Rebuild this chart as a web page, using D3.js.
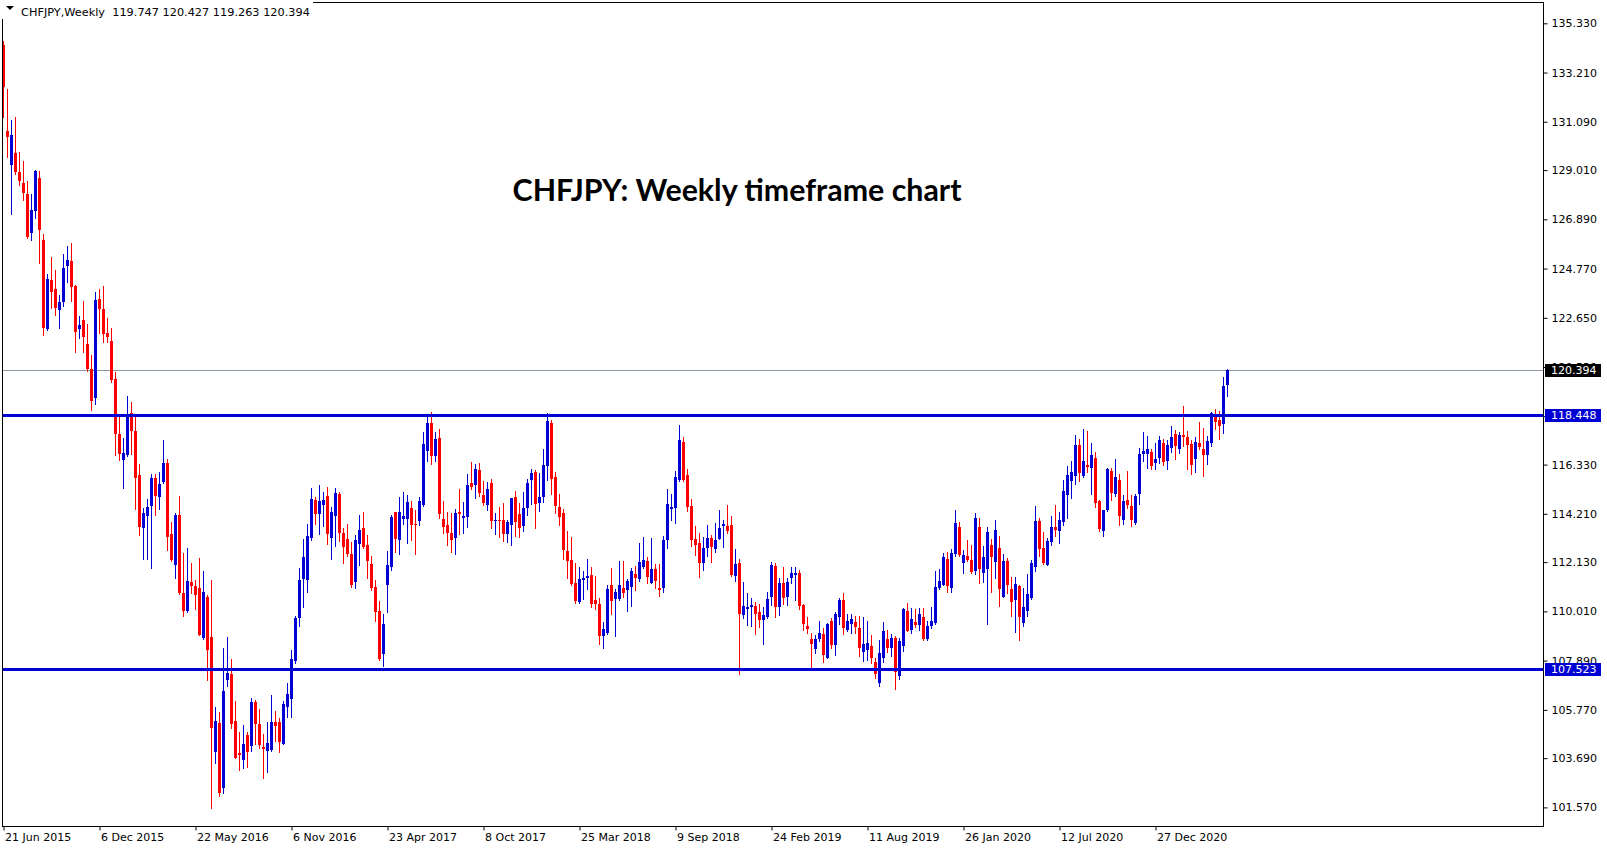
<!DOCTYPE html>
<html><head><meta charset="utf-8">
<script src="https://cdn.jsdelivr.net/npm/d3@7"></script>
<style>html,body{margin:0;padding:0;background:#fff;overflow:hidden}svg{display:block}</style>
</head><body>
<svg id="chart" width="1607" height="850"></svg>
<script>
// ---- Data (weekly OHLC, CHFJPY, from 21 Jun 2015) ----
const opens = [134.40,130.71,129.25,129.75,128.94,128.46,127.97,126.32,127.25,128.69,125.98,122.18,124.27,123.89,122.97,123.33,124.86,125.11,124.00,122.16,122.56,121.53,120.44,119.18,123.46,123.01,122.00,121.66,120.02,117.65,116.53,116.75,118.55,117.79,115.89,113.60,114.12,114.54,115.74,114.95,115.60,116.40,113.33,112.02,114.16,110.80,110.03,111.28,111.10,111.02,108.88,110.63,108.91,103.97,105.22,102.39,107.07,107.33,105.29,103.93,103.63,104.69,104.21,106.11,105.18,104.17,104.00,104.03,105.23,105.26,104.32,105.89,106.24,107.88,109.74,111.41,111.38,113.19,114.82,114.19,114.57,114.97,113.19,114.12,115.05,113.39,113.13,112.48,111.29,112.93,113.62,112.87,112.05,111.06,110.03,108.19,111.16,111.94,114.29,113.07,114.00,114.00,114.48,113.76,113.92,114.59,116.92,118.13,116.70,117.47,113.99,113.73,113.39,113.19,114.31,114.05,114.08,115.54,115.46,116.10,115.02,114.59,115.54,113.90,113.93,113.93,113.36,113.73,114.94,114.21,113.70,114.46,115.68,116.01,114.68,114.94,116.29,118.10,115.80,114.51,114.25,112.61,112.22,111.23,110.43,111.36,111.46,111.58,110.50,110.34,108.97,109.09,111.15,110.55,110.55,111.01,110.95,111.08,111.61,111.41,111.92,112.18,111.25,111.84,111.02,111.00,113.07,114.42,114.48,115.68,117.31,115.89,114.55,113.13,112.96,112.10,112.74,113.17,112.71,113.13,113.69,113.69,113.73,111.54,112.10,109.86,110.11,110.20,110.23,110.00,109.63,109.77,110.63,111.98,110.20,111.23,110.63,111.43,111.58,111.66,110.29,109.38,108.84,108.39,108.84,109.02,108.02,109.60,108.56,109.77,110.50,109.21,109.48,109.54,109.31,108.28,108.36,108.51,107.83,106.94,108.02,108.82,108.45,108.85,107.22,108.51,110.03,109.22,109.57,109.42,109.77,108.82,109.37,109.51,111.00,111.15,112.27,111.03,112.47,113.65,112.09,112.38,112.21,111.75,113.65,111.66,111.84,112.87,112.15,112.74,110.63,112.18,110.99,110.49,111.10,109.51,110.03,110.57,111.92,113.90,112.76,112.01,113.01,113.65,113.47,113.85,115.03,115.63,115.86,117.18,115.86,116.32,116.20,116.63,114.77,113.47,114.39,116.06,115.05,115.68,113.96,114.80,114.55,113.82,115.05,116.78,116.80,116.86,116.38,116.60,117.26,116.49,117.06,117.64,117.00,117.61,117.52,117.21,116.58,117.26,116.98,116.75,117.26,118.50,118.24,118.07,119.747];
const highs = [134.55,132.52,131.16,131.30,129.81,129.41,128.55,127.97,129.00,128.96,126.25,124.54,125.26,124.72,123.62,125.40,125.76,125.89,124.07,122.74,123.37,122.40,121.03,123.78,123.91,124.00,122.65,122.20,120.31,118.51,117.49,119.30,119.03,118.51,116.34,114.45,114.86,115.94,115.91,116.00,117.38,116.55,113.85,114.25,114.97,112.53,112.73,112.10,111.38,112.30,111.75,110.72,111.35,105.89,105.69,108.45,108.91,107.96,106.15,104.83,105.12,104.83,106.30,106.21,105.81,104.72,105.26,106.41,105.72,105.41,106.15,106.93,108.36,109.80,111.87,113.13,113.76,115.34,114.94,115.46,115.14,115.37,114.51,115.31,115.15,113.60,113.76,112.99,113.30,114.16,114.31,113.30,112.41,111.35,110.46,109.91,112.61,114.16,114.31,114.94,115.14,115.02,114.77,114.36,114.94,117.75,118.38,118.58,117.75,117.87,114.76,114.31,114.25,114.42,115.28,114.74,115.91,116.46,116.34,116.40,115.63,115.60,115.71,114.25,114.51,114.68,113.93,114.91,115.20,114.68,115.14,115.71,116.14,116.09,115.97,116.98,118.53,118.27,116.03,115.08,114.42,113.47,113.21,112.10,111.92,111.75,112.27,111.92,111.55,110.60,109.57,111.15,111.86,110.98,112.18,112.18,111.41,111.87,111.95,112.96,113.21,112.35,113.17,112.07,112.07,113.26,115.28,115.05,116.06,118.04,117.52,116.14,114.85,113.69,113.39,113.22,113.73,113.30,113.82,114.36,113.93,114.59,114.12,112.70,112.27,111.28,110.80,110.57,110.40,110.31,110.20,110.86,112.12,112.10,111.43,111.92,111.43,111.92,111.92,111.81,110.34,109.77,109.08,108.99,109.60,109.31,109.51,109.71,109.97,110.57,110.80,109.88,109.88,109.83,109.83,109.77,109.60,108.99,108.02,108.79,109.54,109.22,109.02,108.97,108.88,110.17,110.37,110.17,110.11,110.17,110.17,109.60,110.20,111.75,111.84,112.53,112.55,112.70,114.39,113.85,112.67,113.07,112.87,114.25,114.02,112.81,113.65,113.13,113.96,113.27,112.47,112.30,111.49,111.49,111.15,111.03,111.64,112.21,114.56,114.05,113.44,113.16,114.10,114.59,114.28,115.66,116.26,116.49,117.61,117.44,117.87,117.78,117.26,116.89,114.82,114.39,116.17,116.20,116.58,115.94,115.03,116.06,115.03,115.08,117.03,117.75,117.58,117.00,117.26,117.58,117.44,117.38,117.98,117.84,117.75,118.84,117.78,117.41,117.52,118.18,117.90,117.55,118.61,118.73,118.64,120.11,120.427];
const lows = [131.30,129.59,127.11,128.82,128.37,127.74,126.08,125.98,126.93,124.99,121.89,122.11,123.06,122.79,122.22,123.15,124.18,123.37,121.16,121.80,121.16,120.35,118.69,118.96,121.98,121.62,121.62,119.90,116.75,116.53,115.31,116.71,116.80,114.41,113.28,112.25,112.25,111.86,114.14,114.42,115.55,112.67,112.18,111.44,110.75,109.80,110.00,110.78,110.12,108.99,108.82,107.07,101.56,103.50,102.05,102.19,106.78,105.00,103.71,103.19,103.25,103.31,104.00,104.29,104.14,102.82,103.11,104.00,104.43,103.97,104.32,105.46,105.46,107.79,109.40,110.20,110.86,113.10,113.79,113.33,113.70,112.93,112.28,112.83,113.04,112.11,112.41,111.08,111.03,112.01,112.73,111.46,110.95,109.60,107.93,107.65,110.00,111.79,112.58,112.47,113.79,112.97,113.07,112.47,113.72,114.54,116.49,116.37,116.49,114.05,113.39,112.87,112.58,112.50,113.33,113.39,113.65,115.28,114.91,114.99,114.59,114.36,113.62,113.36,113.22,113.04,113.00,112.87,113.24,113.22,113.47,114.16,114.65,113.62,114.33,114.74,115.68,115.05,114.25,113.73,112.27,111.46,111.15,110.39,110.39,110.55,110.98,110.20,110.12,108.62,108.45,109.02,109.89,108.97,110.49,110.63,110.03,110.26,110.95,111.32,111.89,111.23,111.23,111.03,110.66,110.86,112.73,113.96,113.82,115.63,115.63,114.33,112.84,112.44,111.49,111.79,112.41,112.15,112.58,113.13,112.78,113.39,111.52,111.32,107.33,109.71,109.43,109.40,109.05,109.34,108.62,109.74,110.29,109.77,109.86,110.31,110.29,111.23,110.52,110.11,109.22,109.08,107.47,108.22,108.74,107.85,108.02,108.42,108.13,109.48,109.05,109.17,109.08,109.08,108.10,107.87,107.90,107.79,107.16,106.78,107.82,108.25,108.10,106.67,107.10,108.31,109.17,109.08,109.34,109.22,108.79,108.79,109.31,109.48,110.98,111.15,110.86,110.86,112.41,112.41,111.66,112.18,111.66,111.61,111.23,111.26,109.48,110.86,111.46,110.26,110.63,110.80,109.83,109.14,108.76,109.40,109.83,110.55,111.75,112.38,112.04,112.01,112.87,113.27,112.96,113.73,114.05,114.91,115.51,115.63,115.80,116.03,115.08,114.51,113.47,113.24,114.33,114.80,114.97,113.73,113.76,114.45,113.70,113.79,114.65,116.49,116.20,116.12,116.12,116.40,116.32,116.14,116.89,116.55,116.83,117.12,116.12,115.94,116.03,116.98,115.86,116.37,117.12,117.87,117.44,117.67,119.263];
const closes = [132.58,130.44,130.53,128.91,128.53,128.01,126.12,127.29,128.96,126.44,122.22,124.32,123.75,123.06,123.35,124.81,125.15,123.96,122.02,122.34,121.82,120.44,119.05,123.42,123.01,121.95,121.84,119.97,117.65,116.80,116.84,118.51,117.79,115.76,113.64,114.23,114.50,115.76,114.99,115.48,116.40,113.23,112.21,114.16,110.78,110.03,111.32,111.10,110.72,108.99,110.85,108.36,105.00,105.29,102.20,106.58,107.36,105.18,103.71,103.83,104.29,103.97,106.11,105.18,104.26,104.09,104.36,105.26,105.09,104.40,106.04,106.44,107.98,109.74,111.38,112.33,113.26,114.85,114.19,114.77,114.81,113.36,114.29,115.11,113.40,112.80,112.47,111.15,113.09,113.52,112.78,112.18,111.00,110.00,107.98,109.45,112.01,114.08,113.14,114.29,114.12,114.74,113.73,113.73,114.77,117.21,118.13,116.72,117.44,114.22,113.65,113.39,113.10,114.25,114.22,114.12,115.46,115.37,116.14,115.11,114.68,115.28,113.90,113.95,113.88,113.36,113.85,114.88,113.85,113.62,114.46,115.54,115.97,114.65,114.94,116.32,118.21,115.71,114.55,114.08,112.67,112.18,111.21,110.46,111.41,111.46,111.54,110.34,110.34,108.97,109.25,110.98,110.46,110.86,111.15,110.80,111.32,111.75,111.46,112.14,112.22,111.49,111.82,111.32,110.95,113.09,114.62,114.51,115.80,117.38,115.68,114.51,113.09,112.88,112.10,112.74,113.17,112.78,113.09,113.60,113.76,113.48,111.58,112.05,109.91,110.24,110.20,110.29,109.91,109.65,109.86,110.54,112.01,110.20,111.23,110.60,111.28,111.66,111.66,110.23,109.45,109.25,108.62,108.82,109.08,108.13,109.48,108.56,109.88,110.52,109.31,109.60,109.68,109.34,108.45,108.61,108.65,108.02,107.33,108.22,109.17,108.45,108.85,107.39,108.74,110.11,109.17,109.68,109.42,109.91,108.82,109.40,109.60,111.06,111.32,112.35,111.09,112.53,113.82,112.44,112.44,112.24,111.72,114.02,111.84,112.35,113.43,112.35,113.52,110.97,112.18,111.15,110.40,111.21,109.77,110.20,110.77,112.09,113.88,112.70,112.09,113.04,113.65,113.50,113.93,115.20,115.89,116.00,117.18,115.97,116.49,116.23,116.75,114.68,113.56,114.36,116.12,115.11,115.80,114.13,114.77,114.57,113.93,114.99,116.78,116.92,116.98,116.26,116.58,117.38,116.46,117.18,117.52,117.15,117.61,117.52,117.18,116.32,117.32,117.09,116.75,117.35,118.56,118.18,118.01,119.73,120.394];
const dateLabels = ["21 Jun 2015","6 Dec 2015","22 May 2016","6 Nov 2016","23 Apr 2017","8 Oct 2017","25 Mar 2018","9 Sep 2018","24 Feb 2019","11 Aug 2019","26 Jan 2020","12 Jul 2020","27 Dec 2020"];
const dateLabelBars = [0,24,48,72,96,120,144,168,192,216,240,264,288];
const priceTicks = [135.33,133.21,131.09,129.01,126.89,124.77,122.65,120.53,118.41,116.33,114.21,112.13,110.01,107.89,105.77,103.69,101.57];
const levelLines = [118.448,107.523];
const lastPrice = 120.394;
const headerText = "CHFJPY,Weekly  119.747 120.427 119.263 120.394";
const titleText = "CHFJPY: Weekly timeframe chart";

// ---- Layout ----
const W = 1607, H = 850;
const plot = {left: 2.5, top: 2.5, right: 1543.5, bottom: 826.5};
const BLUE = "#0000D4", RED = "#FF0000";
const FONT = "'DejaVu Sans', Verdana, sans-serif";

const svg = d3.select("#chart");
const x = d3.scaleLinear().domain([0, opens.length - 1]).range([3.5, 3.5 + 4 * (opens.length - 1)]);
const y = d3.scaleLinear().domain([135.33, 101.57]).range([23.3, 807.4]);

svg.append("rect").attr("width", W).attr("height", H).attr("fill", "#fff");

svg.append("clipPath").attr("id", "clip").append("rect")
  .attr("x", plot.left + 0.5).attr("y", plot.top + 0.5)
  .attr("width", plot.right - plot.left - 1).attr("height", plot.bottom - plot.top - 1);

const g = svg.append("g").attr("clip-path", "url(#clip)");

// last price line
g.append("line").attr("x1", plot.left).attr("x2", plot.right)
  .attr("y1", Math.round(y(lastPrice)) + 0.5).attr("y2", Math.round(y(lastPrice)) + 0.5)
  .attr("stroke", "#8896a4").attr("stroke-width", 1);

// candles
const bars = d3.range(opens.length).map(i => ({i, o: opens[i], h: highs[i], l: lows[i], c: closes[i]}));
const cg = g.append("g");
cg.selectAll("line.wick").data(bars).join("line").attr("class", "wick")
  .attr("x1", d => x(d.i)).attr("x2", d => x(d.i))
  .attr("y1", d => Math.round(y(d.h))).attr("y2", d => Math.round(y(d.l)) + 1)
  .attr("stroke", d => d.c >= d.o ? BLUE : RED).attr("stroke-width", 1);
cg.selectAll("rect.body").data(bars).join("rect").attr("class", "body")
  .attr("x", d => x(d.i) - 1.5).attr("width", 3)
  .attr("y", d => Math.round(y(Math.max(d.o, d.c))))
  .attr("height", d => Math.max(1, Math.round(y(Math.min(d.o, d.c))) - Math.round(y(Math.max(d.o, d.c)))))
  .attr("fill", d => d.c >= d.o ? BLUE : RED);

// horizontal level lines
g.selectAll("line.level").data(levelLines).join("line").attr("class", "level")
  .attr("x1", plot.left).attr("x2", plot.right)
  .attr("y1", d => Math.round(y(d)) + 0.5).attr("y2", d => Math.round(y(d)) + 0.5)
  .attr("stroke", BLUE).attr("stroke-width", 3);

// frame
svg.append("rect").attr("x", plot.left).attr("y", plot.top)
  .attr("width", plot.right - plot.left).attr("height", plot.bottom - plot.top)
  .attr("fill", "none").attr("stroke", "#000").attr("stroke-width", 1);

// price axis
const yAxis = d3.axisRight(y).tickValues(priceTicks).tickFormat(d3.format(".3f")).tickSize(4).tickPadding(4);
const ya = svg.append("g").attr("transform", `translate(${plot.right},0)`).call(yAxis);
ya.select(".domain").remove();
ya.selectAll("text").attr("font-family", FONT).attr("font-size", 11).attr("fill", "#000");
ya.selectAll(".tick line").attr("stroke", "#000");

// price labels
const tags = [{v: lastPrice, bg: "#000"}, ...levelLines.map(v => ({v, bg: BLUE}))];
const tg = svg.append("g");
tags.forEach(t => {
  const yy = Math.round(y(t.v));
  tg.append("rect").attr("x", plot.right + 1.5).attr("y", yy - 6).attr("width", 56).attr("height", 13).attr("fill", t.bg);
  tg.append("text").attr("x", plot.right + 7.5).attr("y", yy + 0.5).attr("dy", "0.35em")
    .attr("font-family", FONT).attr("font-size", 11).attr("fill", "#fff").text(d3.format(".3f")(t.v));
});

// date axis
const xAxis = d3.axisBottom(x).tickValues(dateLabelBars).tickFormat((d, k) => dateLabels[k]).tickSize(4).tickPadding(2);
const xa = svg.append("g").attr("transform", `translate(0,${plot.bottom})`).call(xAxis);
xa.select(".domain").remove();
xa.selectAll(".tick line").attr("stroke", "#000");
xa.selectAll("text").attr("font-family", FONT).attr("font-size", 11).attr("fill", "#000")
  .attr("text-anchor", "start").attr("x", 1).attr("y", 5).attr("dy", "0.85em");

// header
svg.append("rect").attr("x", 0).attr("y", 0).attr("width", 313).attr("height", 19).attr("fill", "#fff");
svg.append("path").attr("d", "M6,6 L14,6 L10,10 Z").attr("fill", "#000");
svg.append("text").attr("x", 21).attr("y", 12).attr("dy", "0.35em").attr("font-family", FONT).attr("font-size", 11.3)
  .attr("fill", "#000").attr("xml:space", "preserve").style("white-space", "pre").text(headerText);

// title
const title = svg.append("text").attr("x", 737).attr("y", 201).attr("text-anchor", "middle")
  .attr("font-family", "Lato, 'Open Sans', sans-serif").attr("font-weight", "bold").attr("font-size", 30)
  .attr("fill", "#000").text(titleText);
const tw = title.node().getComputedTextLength();
title.attr("font-size", 30 * 449 / tw);
</script>
</body></html>
